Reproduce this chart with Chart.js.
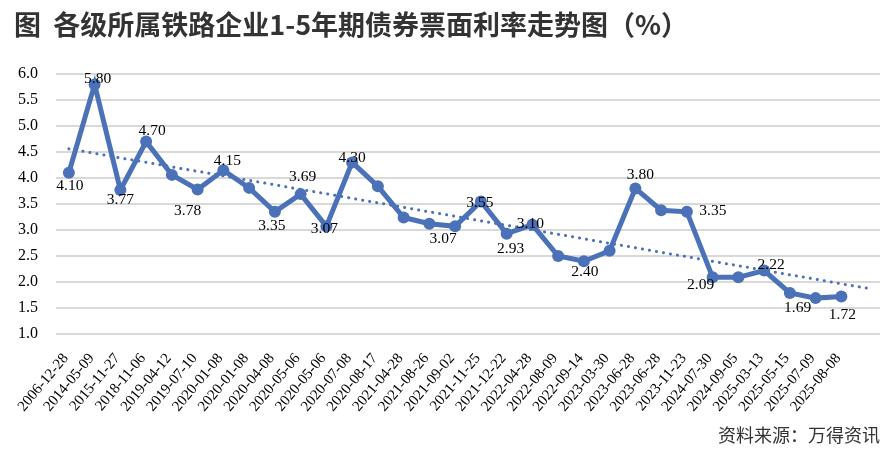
<!DOCTYPE html>
<html>
<head>
<meta charset="utf-8">
<script src="https://cdn.jsdelivr.net/npm/chart.js@4/dist/chart.umd.min.js"></script>
<style>
  body { margin: 0; background: #fff; }
  #wrap { position: relative; width: 894px; height: 459px; overflow: hidden; }
  #title {
    position: absolute; left: 14px; top: 7px;
    font: bold 27px "Noto Sans CJK SC", "Noto Sans", sans-serif;
    line-height: 34px; color: #333; white-space: pre;
  }
  #source {
    position: absolute; right: 14px; top: 423px;
    font: 18px "Noto Sans CJK SC", "Noto Sans", sans-serif;
    line-height: 22px; color: #333;
  }
  canvas { position: absolute; left: 0; top: 0; }
</style>
</head>
<body>
<div id="wrap">
  <canvas id="rate-chart" width="894" height="459"></canvas>
  <div id="title">图  各级所属铁路企业1-5年期债券票面利率走势图（%）</div>
  <div id="source">资料来源：万得资讯</div>
</div>
<script>
// issue dates (x axis)
const categories = ["2006-12-28", "2014-05-09", "2015-11-27", "2018-11-06", "2019-04-12", "2019-07-10",
  "2020-01-08", "2020-01-08", "2020-04-08", "2020-05-06", "2020-05-06", "2020-07-08", "2020-08-17",
  "2021-04-28", "2021-08-26", "2021-09-02", "2021-11-25", "2021-12-22", "2022-04-28", "2022-08-09",
  "2022-09-14", "2023-03-30", "2023-06-28", "2023-06-28", "2023-11-23", "2024-07-30", "2024-09-05",
  "2025-03-13", "2025-05-15", "2025-07-09", "2025-08-08"];

// coupon rate, %
const rates = [4.10, 5.80, 3.77, 4.70, 4.06, 3.78, 4.15, 3.81, 3.35, 3.69, 3.07, 4.30, 3.84,
  3.24, 3.12, 3.07, 3.55, 2.93, 3.10, 2.50, 2.40, 2.60, 3.80, 3.38, 3.35, 2.09, 2.09,
  2.22, 1.79, 1.69, 1.72];

// dotted trend line, start and end (one period forward)
const trendEnds = [4.56, 1.88];

// y axis ticks
const yTicks = { min: 1.0, max: 6.0, step: 0.5 };

// which points carry a value label, and where the label sits (dx, dy from the point)
const labelled = [0, 1, 2, 3, 5, 6, 8, 9, 10, 11, 15, 16, 17, 18, 20, 22, 24, 25, 27, 29, 30];
const labelNudge = [[1, 13], [3, -5], [0, 10], [6, -11], [-10, 21], [4, -9], [-3, 14], [2, -17], [-2, 3],
  [0, -4], [-12, 13], [-1, 2], [4, 15], [-2, -1], [1, 11], [5, -13], [26, -1], [-12, 8], [7, -6],
  [-18, 10], [1, 18]];

const blue = '#4b71b8';

// one extra empty slot on the right for the trend forecast
const xLabels = categories.concat(['']);
const trend = xLabels.map(() => null);
trend[0] = trendEnds[0];
trend[trend.length - 1] = trendEnds[1];

const valueLabels = {
  id: 'valueLabels',
  afterDatasetsDraw(chart) {
    const ctx = chart.ctx;
    const meta = chart.getDatasetMeta(0);
    ctx.save();
    ctx.font = '15.5px "Liberation Serif", serif';
    ctx.fillStyle = '#000';
    ctx.textAlign = 'center';
    ctx.textBaseline = 'middle';
    labelled.forEach((idx, i) => {
      const pt = meta.data[idx];
      ctx.fillText(rates[idx].toFixed(2), pt.x + labelNudge[i][0], pt.y + labelNudge[i][1]);
    });
    ctx.restore();
  }
};

const ctx = document.getElementById('rate-chart').getContext('2d');
const rateChart = new Chart(ctx, {
  type: 'line',
  data: {
    labels: xLabels,
    datasets: [{
      label: 'rate',
      data: rates,
      borderColor: blue,
      backgroundColor: blue,
      borderWidth: 5,
      pointRadius: 6,
      pointBackgroundColor: blue,
      pointBorderWidth: 0,
      tension: 0,
      order: 1
    }, {
      label: 'trend',
      data: trend,
      spanGaps: true,
      borderColor: blue,
      borderWidth: 3,
      borderDash: [0.1, 7],
      borderCapStyle: 'round',
      pointRadius: 0,
      order: 2
    }]
  },
  options: {
    responsive: false,
    animation: false,
    devicePixelRatio: 1,
    layout: { padding: { top: 74, right: 14, left: 0, bottom: 0 } },
    plugins: { legend: { display: false }, tooltip: { enabled: false } },
    scales: {
      x: {
        offset: true,
        grid: { display: false },
        border: { display: false },
        ticks: {
          autoSkip: false,
          minRotation: 50,
          maxRotation: 50,
          color: '#000',
          padding: 8,
          labelOffset: -3,
          font: { family: '"Liberation Serif", serif', size: 15 }
        },
        afterFit(scale) { scale.height = 125; }
      },
      y: {
        min: yTicks.min,
        max: yTicks.max,
        grid: { color: '#d9d9d9', lineWidth: 2, drawTicks: false },
        border: { display: false },
        ticks: {
          stepSize: yTicks.step,
          padding: 18,
          color: '#000',
          font: { family: '"Liberation Serif", serif', size: 16 },
          callback: (v) => v.toFixed(1)
        },
        afterFit(scale) { scale.width = 56; }
      }
    }
  },
  plugins: [valueLabels]
});
</script>
</body>
</html>
